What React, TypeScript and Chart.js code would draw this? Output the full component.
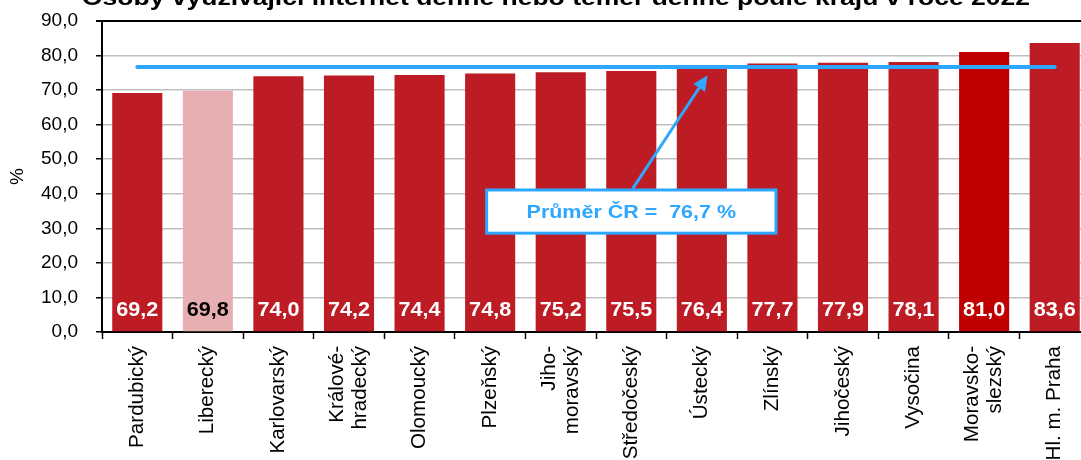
import React, { useEffect, useRef } from "react";
import { Chart, registerables } from "chart.js";

Chart.register(...registerables);

const TITLE = "Osoby využívající internet denně nebo téměř denně podle krajů v roce 2022";
const categories: (string | string[])[] = [
  "Pardubický",
  "Liberecký",
  "Karlovarský",
  ["Králové-", "hradecký"],
  "Olomoucký",
  "Plzeňský",
  ["Jiho-", "moravský"],
  "Středočeský",
  "Ústecký",
  "Zlínský",
  "Jihočeský",
  "Vysočina",
  ["Moravsko-", "slezský"],
  "Hl. m. Praha",
];
const values = [69.2, 69.8, 74.0, 74.2, 74.4, 74.8, 75.2, 75.5, 76.4, 77.7, 77.9, 78.1, 81.0, 83.6];
const average = 76.7;
const averageLabel = "Průměr ČR =  76,7 %";
const yTicks = [0, 10, 20, 30, 40, 50, 60, 70, 80, 90];

const BAR = "#BE1C25";
const LIBEREC = "#E8AFB2";
const MSK = "#C00000";
const BLUE = "#2EA8FF";
const FONT = "'Liberation Sans', Arial, sans-serif";

const barColors = categories.map((_, i) => (i === 1 ? LIBEREC : i === 12 ? MSK : BAR));
const labelColors = categories.map((_, i) => (i === 1 ? "#000000" : "#FFFFFF"));

const fmt = (v: number) => v.toFixed(1).replace(".", ",");

function stretchedText(ctx: CanvasRenderingContext2D, text: string, x: number, y: number, sx: number) {
  ctx.save();
  ctx.translate(x, y);
  ctx.scale(sx, 1);
  ctx.fillText(text, 0, 0);
  ctx.restore();
}

const overlayPlugin = {
  id: "overlay",
  afterDatasetsDraw(chart: any) {
    const ctx = chart.ctx as CanvasRenderingContext2D;
    const xs = chart.scales.x;
    const ys = chart.scales.y;
    const meta = chart.getDatasetMeta(1);
    ctx.save();
    // value labels
    ctx.font = `bold 20px ${FONT}`;
    ctx.textAlign = "center";
    ctx.textBaseline = "middle";
    meta.data.forEach((el: any, i: number) => {
      ctx.fillStyle = labelColors[i];
      stretchedText(ctx, fmt(values[i]), el.x, ys.getPixelForValue(0) - 22, 1.08);
    });
    // x category labels (vertical, multi-line centred on the category)
    ctx.fillStyle = "#000000";
    ctx.font = `20px ${FONT}`;
    ctx.textAlign = "right";
    ctx.textBaseline = "middle";
    const lh = 23;
    categories.forEach((c, i) => {
      const lines = Array.isArray(c) ? c : [c];
      const cx = xs.getPixelForValue(i);
      const top = ys.getPixelForValue(0) + 14;
      lines.forEach((ln, k) => {
        const lx = cx + (k - (lines.length - 1) / 2) * lh;
        ctx.save();
        ctx.translate(lx, top);
        ctx.rotate(-Math.PI / 2);
        ctx.scale(1.03, 1);
        ctx.fillText(ln, 0, 0);
        ctx.restore();
      });
    });
    // annotation arrow
    const sx = xs.getPixelForValue(7.02);
    const sy = ys.getPixelForValue(41.5);
    const tx = xs.getPixelForValue(8.08);
    const ty = ys.getPixelForValue(74.3);
    const ang = Math.atan2(ty - sy, tx - sx);
    const headLen = 15;
    const headW = 7;
    const bx = tx - headLen * Math.cos(ang);
    const by = ty - headLen * Math.sin(ang);
    ctx.strokeStyle = BLUE;
    ctx.fillStyle = BLUE;
    ctx.lineWidth = 3;
    ctx.beginPath();
    ctx.moveTo(sx, sy);
    ctx.lineTo(bx, by);
    ctx.stroke();
    ctx.beginPath();
    ctx.moveTo(tx, ty);
    ctx.lineTo(bx + headW * Math.sin(ang), by - headW * Math.cos(ang));
    ctx.lineTo(bx - headW * Math.sin(ang), by + headW * Math.cos(ang));
    ctx.closePath();
    ctx.fill();
    // annotation box
    const l = xs.getPixelForValue(4.95);
    const r = xs.getPixelForValue(9.05);
    const t = ys.getPixelForValue(41.1);
    const b = ys.getPixelForValue(28.6);
    ctx.fillStyle = "#FFFFFF";
    ctx.fillRect(l, t, r - l, b - t);
    ctx.lineWidth = 3;
    ctx.strokeStyle = BLUE;
    ctx.strokeRect(l, t, r - l, b - t);
    ctx.fillStyle = BLUE;
    ctx.font = `bold 19px ${FONT}`;
    ctx.textAlign = "center";
    ctx.textBaseline = "middle";
    stretchedText(ctx, averageLabel, (l + r) / 2, (t + b) / 2 + 1, 1.13);
    // title (cut off at the top)
    ctx.fillStyle = "#000000";
    ctx.font = `bold 22px ${FONT}`;
    ctx.textAlign = "center";
    ctx.textBaseline = "alphabetic";
    const w = ctx.measureText(TITLE).width;
    stretchedText(ctx, TITLE, 556, 5, 948 / w);
    ctx.restore();
  },
};

export default function App() {
  const ref = useRef<HTMLCanvasElement | null>(null);
  useEffect(() => {
    if (!ref.current) return;
    const chart = new Chart(ref.current, {
      data: {
        labels: categories,
        datasets: [
          {
            type: "line",
            data: categories.map(() => average),
            borderColor: BLUE,
            borderWidth: 4,
            pointRadius: 0,
            borderCapStyle: "round",
            order: 0,
          } as any,
          {
            type: "bar",
            data: values,
            backgroundColor: barColors,
            barPercentage: 0.71,
            categoryPercentage: 1,
            order: 1,
          } as any,
        ],
      },
      options: {
        responsive: false,
        animation: false,
        layout: { padding: { top: 21, right: 10, left: 0, bottom: 0 } },
        plugins: { legend: { display: false }, tooltip: { enabled: false }, title: { display: false } },
        scales: {
          x: {
            type: "category",
            offset: true,
            grid: { offset: true, drawOnChartArea: false, tickLength: 7, tickColor: "#000", tickWidth: 1.5 },
            border: { color: "#000", width: 2 },
            ticks: { display: false, autoSkip: false },
            afterFit: (s: any) => {
              s.height = 128;
            },
          },
          y: {
            min: 0,
            max: 90,
            afterBuildTicks: (s: any) => {
              s.ticks = yTicks.map((v) => ({ value: v }));
            },
            grid: {
              color: (c: any) => (c.tick && c.tick.value === 90 ? "#000" : "#BFBFBF"),
              lineWidth: (c: any) => (c.tick && c.tick.value === 90 ? 2 : 1.5),
              tickLength: 6,
              tickColor: "#000",
            },
            border: { color: "#000", width: 2 },
            ticks: {
              padding: 18,
              color: "#000",
              font: { family: FONT, size: 19 },
              callback: (v: any) => fmt(Number(v)),
            },
            title: {
              display: true,
              text: "%",
              color: "#000",
              font: { family: FONT, size: 19 },
              padding: { top: 6, bottom: 0 },
            },
            afterFit: (s: any) => {
              s.width = 102;
              s.paddingTop = 0;
              s.paddingBottom = 0;
            },
          },
        },
      },
      plugins: [overlayPlugin],
    } as any);
    return () => chart.destroy();
  }, []);
  return (
    <div style={{ position: "fixed", left: 0, top: 0, width: 1081, height: 460, overflow: "hidden", background: "#fff" }}>
      <canvas ref={ref} width={1100} height={460} style={{ display: "block" }} />
    </div>
  );
}
